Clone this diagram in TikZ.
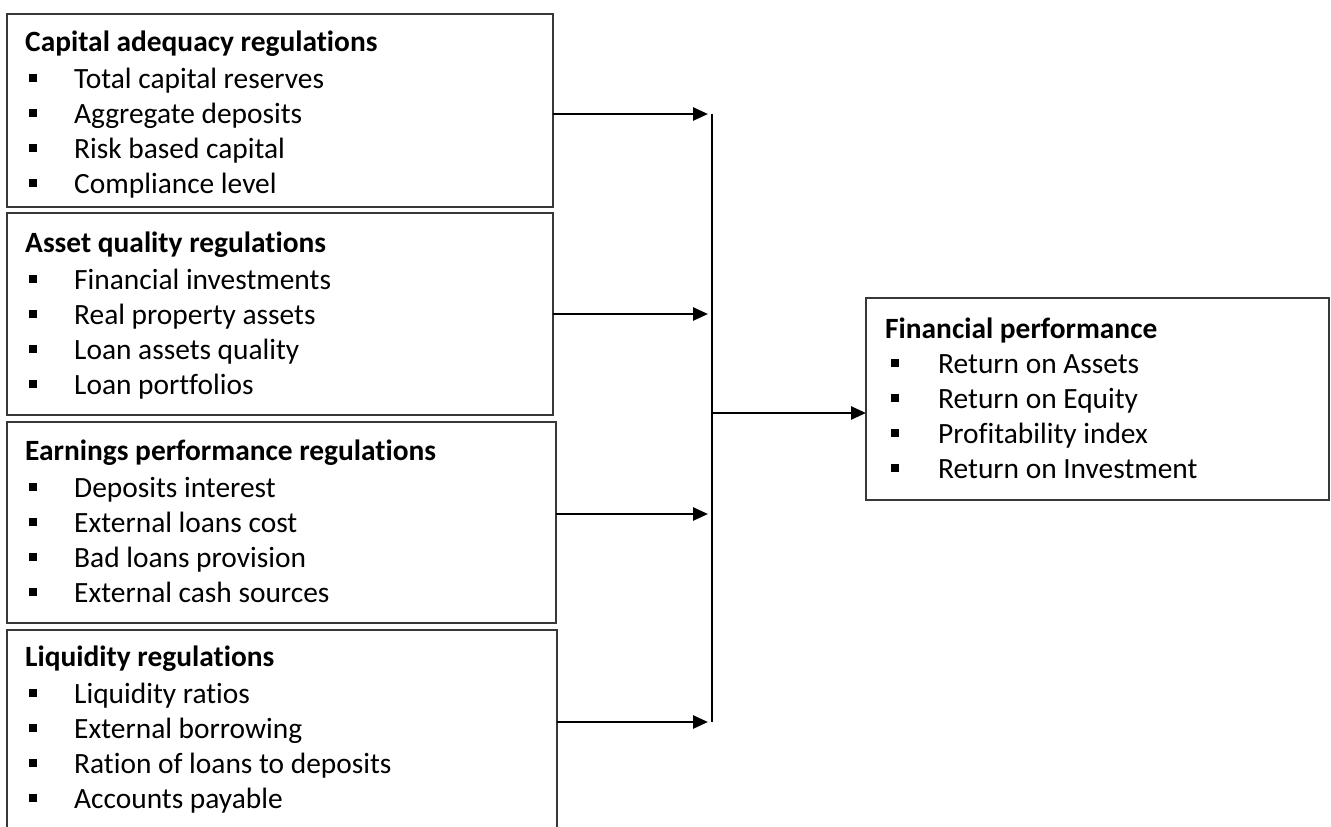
\documentclass[tikz,border=0pt]{standalone}
\usepackage{fontspec}
\setmainfont{Carlito}[Ligatures=NoCommon]
\usetikzlibrary{arrows.meta}
\tikzset{
  frame/.style={draw=black!78, line width=1.3pt, anchor=north west, inner sep=0pt, outer sep=0pt},
  heading/.style={anchor=base west, inner sep=0pt, font=\fontsize{29.4}{33}\selectfont\bfseries},
  entry/.style={anchor=base west, inner sep=0pt, font=\fontsize{29.4}{33}\selectfont},
  sq/.style={fill=black, draw=none, minimum size=7.5pt, inner sep=0pt, anchor=south west},
  link/.style={line width=2.6pt, -{Triangle[length=15pt,width=13pt]}},
  bus/.style={line width=2.6pt}
}
\newcommand\bitem[5]{%
  \node[entry] (#1) at (#3,#4) {#5};
  \node[sq] (#1-b) at (#2,#4-6) {};
}
\begin{document}
\begin{tikzpicture}[x=1pt,y=-1pt]
\useasboundingbox (0,0) rectangle (1331,827);
\clip (0,0) rectangle (1331,827);
% boxes
\node[frame, minimum width=546pt, minimum height=193pt] (cap) at (7,14) {};
\node[frame, minimum width=546pt, minimum height=202pt] (asq) at (7,213) {};
\node[frame, minimum width=549pt, minimum height=201pt] (ear) at (7,422) {};
\node[frame, minimum width=550pt, minimum height=240pt] (liq) at (7,630) {};
\node[frame, minimum width=463pt, minimum height=202pt] (fin) at (866,298) {};
% box 1
\node[heading] (cap-t) at (25,51) {Capital adequacy regulations};
\bitem{cap1}{29}{74}{88}{Total capital reserves}
\bitem{cap2}{29}{74}{123}{Aggregate deposits}
\bitem{cap3}{29}{74}{158}{Risk based capital}
\bitem{cap4}{29}{74}{193}{Compliance level}
% box 2
\node[heading] (asq-t) at (25,252) {Asset quality regulations};
\bitem{asq1}{29}{74}{289}{Financial investments}
\bitem{asq2}{29}{74}{324}{Real property assets}
\bitem{asq3}{29}{74}{359}{Loan assets quality}
\bitem{asq4}{29}{74}{394}{Loan portfolios}
% box 3
\node[heading] (ear-t) at (25,460) {Earnings performance regulations};
\bitem{ear1}{29}{74}{497}{Deposits interest}
\bitem{ear2}{29}{74}{532}{External loans cost}
\bitem{ear3}{29}{74}{567}{Bad loans provision}
\bitem{ear4}{29}{74}{602}{External cash sources}
% box 4
\node[heading] (liq-t) at (25,666) {Liquidity regulations};
\bitem{liq1}{29}{74}{703}{Liquidity ratios}
\bitem{liq2}{29}{74}{738}{External borrowing}
\bitem{liq3}{29}{74}{773}{Ration of loans to deposits}
\bitem{liq4}{29}{74}{808}{Accounts payable}
% right box
\node[heading] (fin-t) at (885,338) {Financial performance};
\bitem{fin1}{891}{938}{373}{Return on Assets}
\bitem{fin2}{891}{938}{408}{Return on Equity}
\bitem{fin3}{891}{938}{443}{Profitability index}
\bitem{fin4}{891}{938}{478}{Return on Investment}
% bus
\coordinate (btop) at (712,114);
\coordinate (bbot) at (712,722);
\coordinate (bmid) at (712,413);
\draw[bus] (btop) -- (bbot);
\draw[link] (cap.east |- btop) -- ([xshift=-4pt]btop);
\draw[link] (asq.east |- 0,314) -- ([xshift=-4pt]btop |- 0,314);
\draw[link] (ear.east |- 0,514) -- ([xshift=-4pt]btop |- 0,514);
\draw[link] (liq.east |- bbot) -- ([xshift=-4pt]bbot);
\draw[link] (bmid) -- (fin.west |- bmid);
\end{tikzpicture}
\end{document}
